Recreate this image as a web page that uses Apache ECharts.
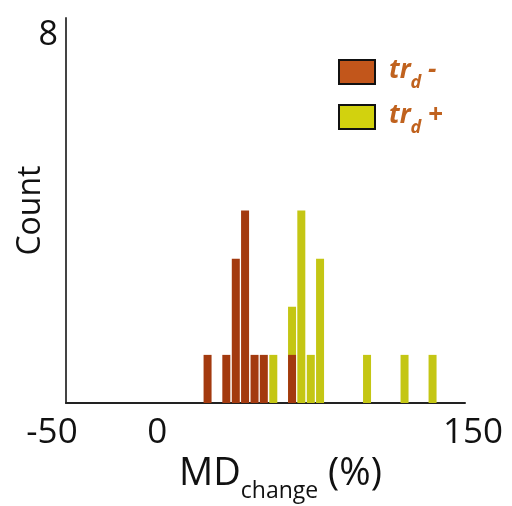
<!DOCTYPE html>
<html>
<head>
<meta charset="utf-8">
<script src="https://cdn.jsdelivr.net/npm/echarts@6/dist/echarts.min.js"></script>
<style>
  html, body { margin: 0; padding: 0; background: #fff; }
  #chart { width: 512px; height: 506px; }
</style>
</head>
<body>
<div id="chart"></div>
<script>
// Histogram bin centres (MD change, %) and counts per group
const trdMinusBins = [24.0, 32.9, 37.4, 41.8, 46.3, 50.7, 64.1];
const trdMinusCounts = [1, 1, 3, 4, 1, 1, 1];
const trdPlusBins = [55.2, 64.1, 68.5, 73.0, 77.4, 99.7, 117.5, 130.8];
const trdPlusCounts = [1, 2, 4, 1, 3, 1, 1, 1];

// Axis tick labels
const xTickLabels = [-50, 0, 150];
const yTickLabels = [8];

const seriesNames = ['trd -', 'trd +'];
const brownBar = '#A33A0F';
const yellowBar = '#C4C614';
const brownSwatch = '#C2561B';
const yellowSwatch = '#D2D20E';
const legendText = '#C0621E';
const FONT = 'Open Sans';

const pairs = (xs, ys) => xs.map((x, i) => [x, ys[i]]);

const chart = echarts.init(document.getElementById('chart'), null, { renderer: 'canvas' });

chart.setOption({
  animation: false,
  backgroundColor: '#fff',
  textStyle: { fontFamily: FONT },
  grid: [
    { left: 66, right: 47, top: 18, bottom: 103, outerBoundsMode: 'none', containLabel: false },
    { left: 52, right: 39, top: 18, bottom: 103, outerBoundsMode: 'none', containLabel: false }
  ],
  xAxis: [
    {
      gridIndex: 0,
      type: 'value',
      min: -43.2,
      max: 146.2,
      splitLine: { show: false },
      axisTick: { show: false },
      axisLabel: { show: false },
      axisLine: { show: true, onZero: false, lineStyle: { color: '#222', width: 2 } },
      name: '{m|MD}{s|change}{m| (%)}',
      nameLocation: 'middle',
      nameMoveOverlap: false,
      nameGap: 52,
      nameTextStyle: {
        padding: [0, 0, 0, 30],
        rich: {
          m: { fontFamily: FONT, fontSize: 38, color: '#111', lineHeight: 44, verticalAlign: 'top' },
          s: { fontFamily: FONT, fontSize: 23, color: '#111', lineHeight: 23, verticalAlign: 'top', padding: [25, 0, 0, 0] }
        }
      }
    },
    {
      gridIndex: 1,
      type: 'value',
      min: -50,
      max: 150,
      interval: 50,
      splitLine: { show: false },
      axisTick: { show: false },
      axisLine: { show: false },
      axisLabel: {
        margin: 13,
        fontFamily: FONT,
        fontSize: 35,
        color: '#111',
        formatter: v => (xTickLabels.indexOf(v) >= 0 ? String(v) : '')
      }
    }
  ],
  yAxis: [
    {
      gridIndex: 0,
      type: 'value',
      min: 0,
      max: 8,
      interval: 1,
      splitLine: { show: false },
      axisTick: { show: false },
      axisLine: { show: true, onZero: false, lineStyle: { color: '#444', width: 2 } },
      axisLabel: {
        margin: 8,
        fontFamily: FONT,
        fontSize: 34,
        color: '#111',
        verticalAlign: 'top',
        formatter: v => (yTickLabels.indexOf(v) >= 0 ? String(v) : '')
      },
      name: 'Count',
      nameLocation: 'middle',
      nameMoveOverlap: false,
      nameGap: 19,
      nameTextStyle: { fontFamily: FONT, fontSize: 32, color: '#111' }
    },
    {
      gridIndex: 1,
      type: 'value',
      show: false,
      min: 0,
      max: 8
    }
  ],
  legend: {
    orient: 'vertical',
    left: 338,
    top: 58,
    padding: 0,
    itemWidth: 36,
    itemHeight: 24,
    itemGap: 11,
    icon: 'rect',
    data: [
      { name: seriesNames[0], itemStyle: { color: brownSwatch, borderColor: '#111', borderWidth: 2 } },
      { name: seriesNames[1], itemStyle: { color: yellowSwatch, borderColor: '#111', borderWidth: 2 } }
    ],
    formatter: name => (name === seriesNames[0] ? '{t|tr}{s|d}{t| -}' : '{t|tr}{s|d}{t| +}'),
    textStyle: {
      padding: [0, 0, 0, 9],
      rich: {
        t: { fontFamily: FONT, fontSize: 26, fontWeight: 'bold', fontStyle: 'italic', color: legendText, lineHeight: 28, verticalAlign: 'top' },
        s: { fontFamily: FONT, fontSize: 18, fontWeight: 'bold', fontStyle: 'italic', color: legendText, lineHeight: 18, verticalAlign: 'top', padding: [16, 0, 0, 0] }
      }
    }
  },
  series: [
    {
      name: seriesNames[1],
      type: 'bar',
      xAxisIndex: 0,
      yAxisIndex: 0,
      barWidth: 8,
      barGap: '-100%',
      itemStyle: { color: yellowBar },
      data: pairs(trdPlusBins, trdPlusCounts)
    },
    {
      name: seriesNames[0],
      type: 'bar',
      xAxisIndex: 0,
      yAxisIndex: 0,
      barWidth: 8,
      barGap: '-100%',
      itemStyle: { color: brownBar },
      data: pairs(trdMinusBins, trdMinusCounts)
    }
  ]
});
</script>
</body>
</html>
